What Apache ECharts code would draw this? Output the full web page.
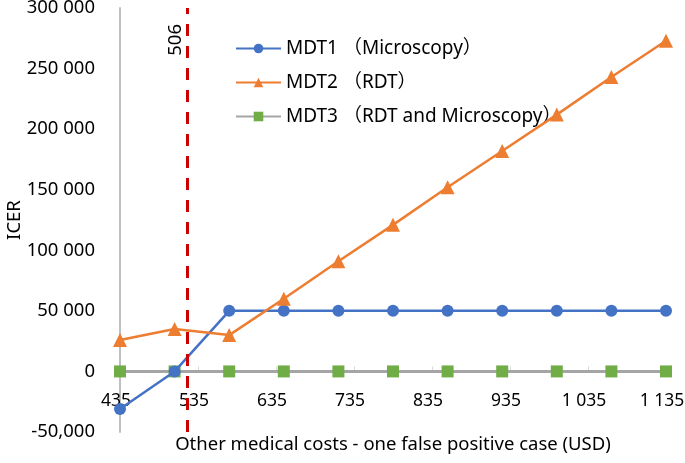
<!DOCTYPE html>
<html><head><meta charset="utf-8">
<script src="https://cdn.jsdelivr.net/npm/echarts@6/dist/echarts.min.js"></script>
<style>html,body{margin:0;padding:0;background:#fff}#c{width:685px;height:463px}</style>
</head><body><div id="c"></div>
<script>
const xValues = [435, 505, 575, 645, 715, 785, 855, 925, 995, 1065, 1135];
const mdt1 = [-31000, 0, 50000, 50000, 50000, 50000, 50000, 50000, 50000, 50000, 50000];
const mdt2 = [26000, 35000, 30000, 60000, 91000, 121000, 152000, 182000, 212000, 243000, 273000];
const mdt3 = [0, 0, 0, 0, 0, 0, 0, 0, 0, 0, 0];
const seriesNames = ['MDT1 （Microscopy）', 'MDT2 （RDT）', 'MDT3 （RDT and Microscopy）'];
const thresholdLabel = '506';
const thresholdLineX = 521;

const FONT = 'Noto Sans, Noto Sans CJK SC, sans-serif';
function spaced(v){
  const s = Math.abs(v).toString().replace(/\B(?=(\d{3})+(?!\d))/g, ' ');
  return (v<0?'-':'')+s;
}
const chart = echarts.init(document.getElementById('c'));
chart.setOption({
  animation:false,
  textStyle:{fontFamily:FONT},
  grid:{left:120, right:19, top:8, bottom:31, containLabel:false, outerBoundsMode:'none'},
  legend:{
    orient:'vertical', left:230, top:34, itemGap:15, itemWidth:45, itemHeight:12,
    textStyle:{fontSize:19, color:'#000', fontFamily:FONT},
    data:seriesNames
  },
  xAxis:{
    type:'value', min:435, max:1135, interval:100,
    axisLine:{onZero:true, lineStyle:{color:'#A6A6A6', width:3}},
    axisTick:{inside:true, length:5, lineStyle:{color:'#D9D9D9'}},
    axisLabel:{fontSize:17.5, color:'#000', margin:-40, padding:[0,8,0,0], formatter:v=>spaced(v), showMaxLabel:true, showMinLabel:true},
    splitLine:{show:false},
    name:'Other medical costs - one false positive case (USD)',
    nameLocation:'middle', nameGap:3, nameMoveOverlap:false,
    nameTextStyle:{fontSize:18.5, color:'#000'}
  },
  yAxis:{
    type:'value', min:-50000, max:300000, interval:50000,
    axisLine:{show:true, lineStyle:{color:'#BFBFBF', width:2}},
    axisTick:{show:false},
    axisLabel:{fontSize:18.5, color:'#000', margin:25, formatter:v=> v===-50000 ? '-50,000' : spaced(v)},
    splitLine:{show:false},
    name:'ICER', nameLocation:'middle', nameGap:96, nameRotate:90, nameMoveOverlap:false,
    nameTextStyle:{fontSize:18.5, color:'#000'}
  },
  series:[
    {name:seriesNames[2], type:'line', data:xValues.map((x,i)=>[x,mdt3[i]]),
     lineStyle:{color:'#A5A5A5', width:3}, itemStyle:{color:'#70AD47'},
     symbol:'rect', symbolSize:12, z:2},
    {name:seriesNames[0], type:'line', data:xValues.map((x,i)=>[x,mdt1[i]]),
     lineStyle:{color:'#4472C4', width:2.5}, itemStyle:{color:'#4472C4'},
     symbol:'circle', symbolSize:12, z:3},
    {name:seriesNames[1], type:'line', data:xValues.map((x,i)=>[x,mdt2[i]]),
     lineStyle:{color:'#ED7D31', width:2.5}, itemStyle:{color:'#ED7D31'},
     symbol:'triangle', symbolSize:14, z:4,
     markLine:{silent:true, symbol:'none', animation:false,
       lineStyle:{color:'#CC0000', width:3, type:[12,10]},
       label:{show:true, position:'insideEndTop', formatter:thresholdLabel, fontSize:18.5, color:'#000', distance:2, padding:[0,14,0,0], fontFamily:FONT},
       data:[{xAxis:thresholdLineX}]}
    }
  ]
});
</script></body></html>
